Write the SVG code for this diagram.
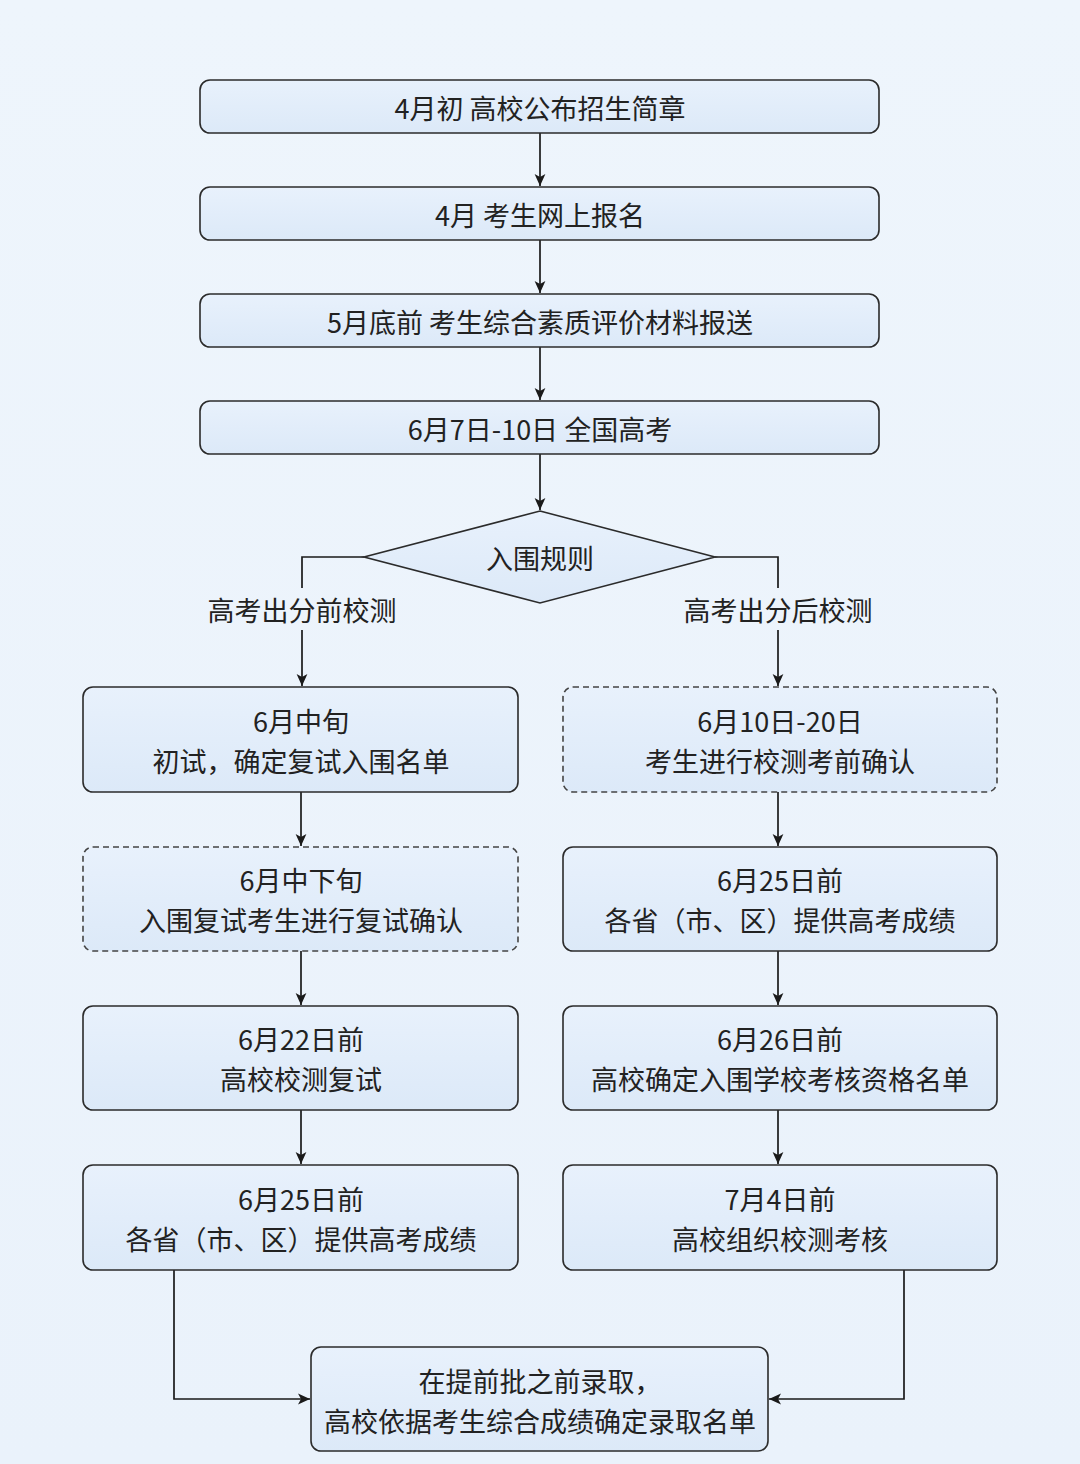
<svg xmlns="http://www.w3.org/2000/svg" width="1080" height="1464" viewBox="0 0 1080 1464">
<defs>
<linearGradient id="bg" x1="0" y1="0" x2="0" y2="1"><stop offset="0" stop-color="#eef5fc"/><stop offset="1" stop-color="#eaf2fb"/></linearGradient>
<linearGradient id="bf" x1="0" y1="0" x2="0" y2="1"><stop offset="0" stop-color="#e8f1fc"/><stop offset="1" stop-color="#dce9f8"/></linearGradient>
<marker id="ah" viewBox="0 0 10 10" refX="10" refY="5" markerWidth="12" markerHeight="12" markerUnits="userSpaceOnUse" orient="auto"><path d="M0,0.5 L10,5 L0,9.5 L2.5,5 Z" fill="#1a1a1a"/></marker>
<style>
.box{fill:url(#bf);stroke:#2b2b2b;stroke-width:1.6}
.dash{stroke-dasharray:6 4;stroke:#444}
.t{font-family:"Noto Sans CJK SC","Noto Sans",sans-serif;font-size:27px;fill:#222;text-anchor:middle;dominant-baseline:central}
.c{fill:none;stroke:#1a1a1a;stroke-width:1.7}
</style>
</defs>
<rect width="1080" height="1464" fill="url(#bg)"/>
<g id="connectors">
<path class="c" d="M540,133 V186" marker-end="url(#ah)"/>
<path class="c" d="M540,240 V293" marker-end="url(#ah)"/>
<path class="c" d="M540,347 V400" marker-end="url(#ah)"/>
<path class="c" d="M540,454 V510" marker-end="url(#ah)"/>
<path class="c" d="M364,557 H302 V588"/>
<path class="c" d="M302,630 V686" marker-end="url(#ah)"/>
<path class="c" d="M715,557 H778 V588"/>
<path class="c" d="M778,630 V686" marker-end="url(#ah)"/>
<path class="c" d="M301,792 V846" marker-end="url(#ah)"/>
<path class="c" d="M301,951 V1005" marker-end="url(#ah)"/>
<path class="c" d="M301,1110 V1164" marker-end="url(#ah)"/>
<path class="c" d="M778,792 V846" marker-end="url(#ah)"/>
<path class="c" d="M778,951 V1005" marker-end="url(#ah)"/>
<path class="c" d="M778,1110 V1164" marker-end="url(#ah)"/>
<path class="c" d="M174,1270 V1399 H310" marker-end="url(#ah)"/>
<path class="c" d="M904,1270 V1399 H769" marker-end="url(#ah)"/>
<text class="t" x="302" y="609">高考出分前校测</text>
<text class="t" x="778" y="609">高考出分后校测</text>
</g>
<g id="n1"><rect class="box" x="200" y="80" width="679" height="53" rx="10"/><text class="t" x="540" y="107">4月初 高校公布招生简章</text></g>
<g id="n2"><rect class="box" x="200" y="187" width="679" height="53" rx="10"/><text class="t" x="540" y="214">4月 考生网上报名</text></g>
<g id="n3"><rect class="box" x="200" y="294" width="679" height="53" rx="10"/><text class="t" x="540" y="321">5月底前 考生综合素质评价材料报送</text></g>
<g id="n4"><rect class="box" x="200" y="401" width="679" height="53" rx="10"/><text class="t" x="540" y="428">6月7日-10日 全国高考</text></g>
<g id="d1"><polygon class="box" points="540,511 715,557 540,603 364,557"/><text class="t" x="540" y="557">入围规则</text></g>
<g id="l1"><rect class="box" x="83" y="687" width="435" height="105" rx="10"/><text class="t" x="301" y="720">6月中旬</text><text class="t" x="301" y="760">初试，确定复试入围名单</text></g>
<g id="l2"><rect class="box dash" x="83" y="847" width="435" height="104" rx="10"/><text class="t" x="301" y="879">6月中下旬</text><text class="t" x="301" y="919">入围复试考生进行复试确认</text></g>
<g id="l3"><rect class="box" x="83" y="1006" width="435" height="104" rx="10"/><text class="t" x="301" y="1038">6月22日前</text><text class="t" x="301" y="1078">高校校测复试</text></g>
<g id="l4"><rect class="box" x="83" y="1165" width="435" height="105" rx="10"/><text class="t" x="301" y="1198">6月25日前</text><text class="t" x="301" y="1238">各省（市、区）提供高考成绩</text></g>
<g id="r1"><rect class="box dash" x="563" y="687" width="434" height="105" rx="10"/><text class="t" x="780" y="720">6月10日-20日</text><text class="t" x="780" y="760">考生进行校测考前确认</text></g>
<g id="r2"><rect class="box" x="563" y="847" width="434" height="104" rx="10"/><text class="t" x="780" y="879">6月25日前</text><text class="t" x="780" y="919">各省（市、区）提供高考成绩</text></g>
<g id="r3"><rect class="box" x="563" y="1006" width="434" height="104" rx="10"/><text class="t" x="780" y="1038">6月26日前</text><text class="t" x="780" y="1078">高校确定入围学校考核资格名单</text></g>
<g id="r4"><rect class="box" x="563" y="1165" width="434" height="105" rx="10"/><text class="t" x="780" y="1198">7月4日前</text><text class="t" x="780" y="1238">高校组织校测考核</text></g>
<g id="n5"><rect class="box" x="311" y="1347" width="457" height="104" rx="10"/><text class="t" x="540" y="1380">在提前批之前录取，</text><text class="t" x="540" y="1420">高校依据考生综合成绩确定录取名单</text></g>
</svg>
